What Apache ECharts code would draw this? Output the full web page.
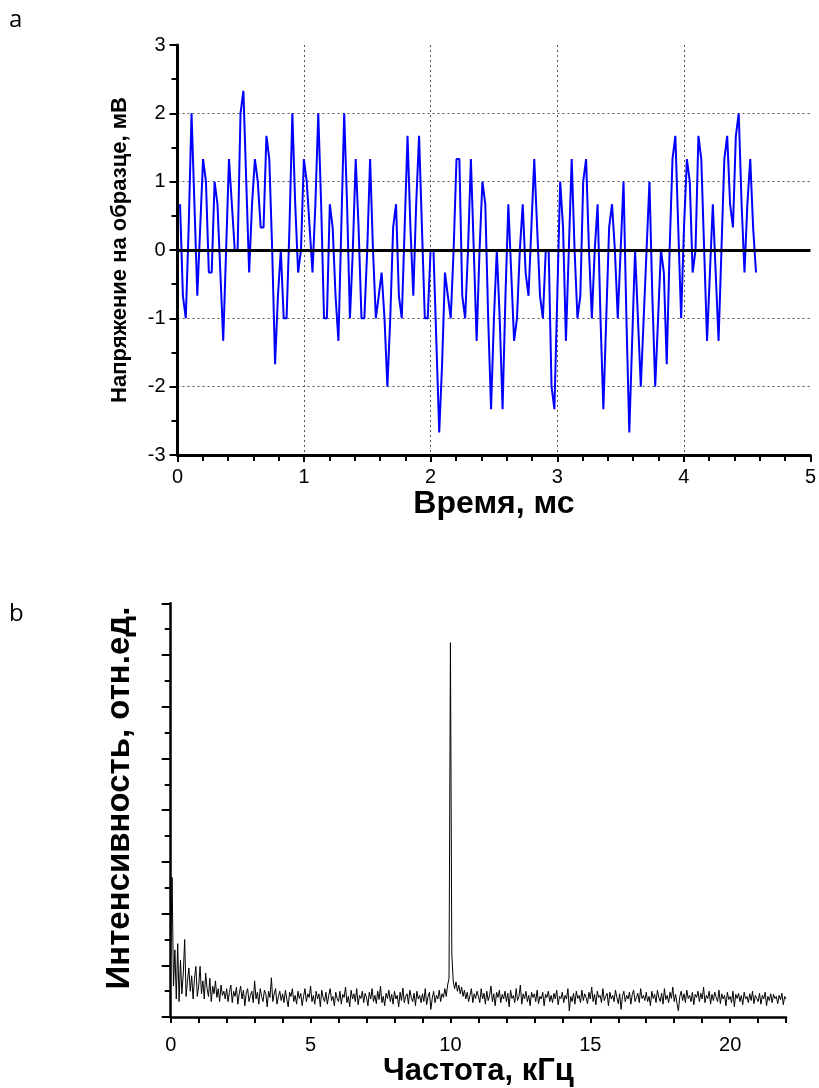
<!DOCTYPE html>
<html>
<head>
<meta charset="utf-8">
<script src="https://cdn.jsdelivr.net/npm/echarts@6.0.0/dist/echarts.min.js"></script>
<style>
html,body{margin:0;padding:0;background:#fff;}
#chart{width:819px;height:1088px;}
</style>
</head>
<body>
<div id="chart"></div>
<script>
// ---- Panel a: time signal (mV), uniformly sampled ----
const T_START = 0.02;      // ms, first sample
const T_STEP = 0.02275;    // ms between samples
const voltage = [
  0.67, -0.67, -1, 0.33, 2, 0.67, -0.67, 0.33, 1.33, 1,
  -0.33, -0.33, 1, 0.67, -0.33, -1.33, 0, 1.33, 0.67, 0,
  0, 2, 2.33, 1, -0.33, 0.67, 1.33, 1, 0.33, 0.33,
  1.67, 1.33, 0, -1.67, -0.67, 0, -1, -1, 0.33, 2,
  0.67, -0.33, 0, 1.33, 1, 0.33, -0.33, 0.67, 2, 0.67,
  -1, -1, 0.67, 0.33, -0.67, -1.33, 0.33, 2, 0.67, -1,
  0, 1.33, 0.33, -1, -1, 0, 1.33, 0, -1, -0.67,
  -0.33, -1, -2, -1, 0.33, 0.67, -0.67, -1, 0.33, 1.67,
  0.33, -0.67, 0.67, 1.67, 0.33, -1, -1, 0, 0, -1.33,
  -2.67, -1.67, -0.33, -0.67, -1, 0, 1.33, 1.33, -0.67, -1,
  0, 1.33, 0, -1.33, 0, 1, 0.67, -1, -2.33, -1,
  0, -1, -2.33, -0.67, 0.67, -0.33, -1.33, -1, 0, 0.67,
  -0.33, -0.67, 0.33, 1.33, 0.33, -0.67, -1, 0, 0, -2,
  -2.33, -0.67, 1, 0.33, -1.33, 0, 1.33, 0, -1, -0.67,
  1, 1.33, 0, -1, 0, 0.67, -1, -2.33, -1, 0.33,
  0.67, 0, -1, 0, 1, -1, -2.67, -1.33, 0, -1,
  -2, -1, 0, 1, -0.67, -2, -1, 0, -0.33, -1.67,
  0, 1.33, 1.67, 0.33, -1, 0.33, 1.33, 1, -0.33, 0,
  1.67, 1.33, 0, -1.33, -0.33, 0.67, -0.33, -1.33, 0, 1.33,
  1.67, 0.67, 0.33, 1.67, 2, 0.67, -0.33, 0.67, 1.33, 0.33,
  -0.33
];
const timeTicks = [0, 1, 2, 3, 4, 5];
const voltTicks = [-3, -2, -1, 0, 1, 2, 3];

// ---- Panel b: spectrum (relative units), 0.05 kHz bins ----
const F_STEP = 0.05; // kHz
const intensity = [
  1.20, 2.70, 0.60, 1.30, 0.35, 1.42, 0.30, 1.10, 0.45, 0.85, 1.50, 0.40, 0.70, 0.95, 0.50, 0.80, 0.35, 0.75, 0.98, 0.40,
  0.60, 0.98, 0.45, 0.70, 0.35, 0.85, 0.55, 0.40, 0.75, 0.30, 0.60, 0.45, 0.70, 0.38, 0.55, 0.30, 0.62, 0.42, 0.50, 0.35,
  0.55, 0.30, 0.48, 0.62, 0.28, 0.50, 0.40, 0.58, 0.25, 0.45, 0.60, 0.35, 0.52, 0.22, 0.46, 0.55, 0.30, 0.42, 0.50, 0.28,
  0.70, 0.35, 0.48, 0.25, 0.55, 0.40, 0.30, 0.52, 0.45, 0.20, 0.50, 0.38, 0.76, 0.30, 0.45, 0.55, 0.25, 0.40, 0.50, 0.32,
  0.45, 0.28, 0.52, 0.35, 0.20, 0.48, 0.40, 0.55, 0.30, 0.42, 0.25, 0.50, 0.36, 0.46, 0.22, 0.40, 0.55, 0.30, 0.45, 0.38,
  0.60, 0.30, 0.42, 0.25, 0.50, 0.35, 0.45, 0.20, 0.52, 0.38, 0.30, 0.48, 0.25, 0.42, 0.55, 0.32, 0.40, 0.22, 0.48, 0.36,
  0.30, 0.50, 0.25, 0.44, 0.38, 0.58, 0.28, 0.40, 0.20, 0.52, 0.35, 0.45, 0.30, 0.55, 0.24, 0.42, 0.36, 0.50, 0.28, 0.46,
  0.38, 0.22, 0.48, 0.35, 0.55, 0.30, 0.42, 0.26, 0.50, 0.34, 0.60, 0.28, 0.40, 0.22, 0.46, 0.36, 0.52, 0.30, 0.44, 0.25,
  0.50, 0.35, 0.42, 0.20, 0.48, 0.32, 0.56, 0.28, 0.40, 0.45, 0.25, 0.52, 0.38, 0.30, 0.46, 0.22, 0.50, 0.35, 0.42, 0.28,
  0.45, 0.30, 0.55, 0.24, 0.40, 0.48, 0.15, 0.36, 0.50, 0.28, 0.42, 0.35, 0.52, 0.30, 0.45, 0.38, 0.55, 0.40, 0.62, 0.75,
  7.24, 1.20, 0.70, 0.55, 0.68, 0.50, 0.62, 0.45, 0.58, 0.40, 0.52, 0.35, 0.48, 0.30, 0.42, 0.55, 0.28, 0.45, 0.36, 0.50,
  0.40, 0.28, 0.55, 0.35, 0.46, 0.25, 0.50, 0.32, 0.42, 0.60, 0.30, 0.45, 0.22, 0.48, 0.38, 0.52, 0.28, 0.44, 0.35, 0.50,
  0.30, 0.46, 0.20, 0.52, 0.36, 0.42, 0.28, 0.55, 0.32, 0.40, 0.62, 0.25, 0.45, 0.35, 0.50, 0.30, 0.42, 0.22, 0.48, 0.38,
  0.45, 0.30, 0.52, 0.26, 0.40, 0.35, 0.48, 0.22, 0.44, 0.38, 0.50, 0.30, 0.42, 0.28, 0.46, 0.35, 0.52, 0.24, 0.40, 0.36,
  0.48, 0.28, 0.42, 0.35, 0.55, 0.12, 0.40, 0.30, 0.46, 0.25, 0.50, 0.36, 0.42, 0.28, 0.52, 0.32, 0.45, 0.38, 0.26, 0.48,
  0.35, 0.58, 0.30, 0.44, 0.24, 0.50, 0.38, 0.42, 0.28, 0.55, 0.32, 0.40, 0.46, 0.22, 0.48, 0.35, 0.42, 0.30, 0.52, 0.38,
  0.26, 0.45, 0.15, 0.40, 0.50, 0.30, 0.42, 0.35, 0.48, 0.25, 0.44, 0.52, 0.30, 0.38, 0.46, 0.28, 0.55, 0.36, 0.42, 0.32,
  0.48, 0.30, 0.40, 0.22, 0.50, 0.36, 0.44, 0.28, 0.52, 0.38, 0.30, 0.46, 0.25, 0.55, 0.34, 0.42, 0.28, 0.48, 0.36, 0.58,
  0.30, 0.44, 0.26, 0.12, 0.40, 0.50, 0.32, 0.45, 0.28, 0.52, 0.36, 0.42, 0.30, 0.48, 0.24, 0.44, 0.38, 0.50, 0.30, 0.46,
  0.35, 0.58, 0.28, 0.42, 0.36, 0.50, 0.25, 0.44, 0.32, 0.48, 0.38, 0.30, 0.52, 0.26, 0.45, 0.35, 0.42, 0.22, 0.48, 0.34,
  0.40, 0.28, 0.50, 0.20, 0.44, 0.36, 0.46, 0.30, 0.42, 0.24, 0.48, 0.35, 0.40, 0.28, 0.45, 0.32, 0.50, 0.26, 0.42, 0.36,
  0.30, 0.46, 0.25, 0.42, 0.35, 0.48, 0.22, 0.40, 0.32, 0.45, 0.28, 0.44, 0.36, 0.40, 0.26, 0.42, 0.34, 0.46, 0.24, 0.40,
  0.35
];
const freqLabelTicks = [0, 5, 10, 15, 20];

// ---- build series data ----
const sigData = voltage.map((v, i) => [T_START + i * T_STEP, v]);
const specData = intensity.map((v, i) => [+(i * F_STEP).toFixed(2), v]);

const FONT = "'Liberation Sans', Arial, sans-serif";

const chart = echarts.init(document.getElementById('chart'), null, {renderer: 'canvas'});
chart.setOption({
  animation: false,
  backgroundColor: '#fff',
  graphic: [
    {type: 'text', left: 9, top: 8, style: {text: 'a', font: "24px 'Open Sans', sans-serif", fill: '#000'}},
    {type: 'text', left: 9, top: 602, style: {text: 'b', font: "24px 'Open Sans', sans-serif", fill: '#000'}},
    {
      type: 'text', x: 120, y: 798, rotation: Math.PI / 2,
      style: {
        text: 'Интенсивность, отн.ед.', font: "bold 33px 'Liberation Sans', Arial, sans-serif",
        fill: '#000', align: 'center', verticalAlign: 'middle'
      }
    }
  ],
  grid: [
    {left: 177.5, top: 45, width: 633.75, height: 410},
    {left: 170.7, top: 603.3, width: 615.4, height: 417.7}
  ],
  xAxis: [
    {
      gridIndex: 0, type: 'value', min: timeTicks[0], max: timeTicks[timeTicks.length - 1], interval: 1,
      name: 'Время, мс', nameLocation: 'middle', nameGap: 14,
      nameTextStyle: {fontSize: 32, fontWeight: 'bold', color: '#000', fontFamily: FONT},
      axisLine: {onZero: false, lineStyle: {color: '#000', width: 3}},
      axisTick: {length: 7, lineStyle: {color: '#000', width: 2}},
      minorTick: {show: true, splitNumber: 5, length: 6, lineStyle: {color: '#000', width: 2}},
      axisLabel: {fontSize: 20, color: '#000', fontFamily: FONT, margin: 12},
      splitLine: {show: true, showMinLine: false, showMaxLine: false, lineStyle: {color: '#555', type: [2, 3], width: 1}}
    },
    {
      gridIndex: 1, type: 'value', min: 0, max: 22, interval: 1,
      name: 'Частота, кГц', nameLocation: 'middle', nameGap: 37,
      nameTextStyle: {fontSize: 31, fontWeight: 'bold', color: '#000', fontFamily: FONT},
      axisLine: {onZero: false, lineStyle: {color: '#000', width: 2.5}},
      axisTick: {length: 6, lineStyle: {color: '#000', width: 2}},
      axisLabel: {
        interval: 0, fontSize: 20, color: '#000', fontFamily: FONT, margin: 18,
        formatter: v => (freqLabelTicks.indexOf(v) >= 0 ? String(v) : '')
      },
      splitLine: {show: false}
    }
  ],
  yAxis: [
    {
      gridIndex: 0, type: 'value', min: voltTicks[0], max: voltTicks[voltTicks.length - 1], interval: 1,
      name: 'Напряжение на образце, мВ', nameLocation: 'middle', nameGap: 47,
      nameTextStyle: {fontSize: 22, fontWeight: 'bold', color: '#000', fontFamily: FONT},
      axisLine: {onZero: false, lineStyle: {color: '#000', width: 3}},
      axisTick: {length: 8, lineStyle: {color: '#000', width: 2}},
      minorTick: {show: true, splitNumber: 2, length: 6, lineStyle: {color: '#000', width: 2}},
      axisLabel: {fontSize: 20, color: '#000', fontFamily: FONT, margin: 12},
      splitLine: {show: true, showMinLine: false, showMaxLine: false, lineStyle: {color: '#555', type: [2, 3], width: 1}}
    },
    {
      gridIndex: 1, type: 'value', min: 0, max: 8, interval: 1,
      axisLine: {onZero: false, lineStyle: {color: '#000', width: 2.5}},
      axisTick: {length: 9, lineStyle: {color: '#000', width: 2}},
      minorTick: {show: true, splitNumber: 2, length: 6, lineStyle: {color: '#000', width: 2}},
      axisLabel: {show: false},
      splitLine: {show: false}
    }
  ],
  series: [
    {
      type: 'line', xAxisIndex: 0, yAxisIndex: 0, data: sigData,
      showSymbol: false, symbol: 'none',
      lineStyle: {color: '#0000ff', width: 2},
      z: 3,
      markLine: {
        silent: true, symbol: 'none', label: {show: false},
        lineStyle: {color: '#000', width: 3, type: 'solid'},
        data: [{yAxis: 0}]
      }
    },
    {
      type: 'line', xAxisIndex: 1, yAxisIndex: 1, data: specData,
      showSymbol: false, symbol: 'none',
      lineStyle: {color: '#000', width: 1}
    }
  ]
});
</script>
</body>
</html>
